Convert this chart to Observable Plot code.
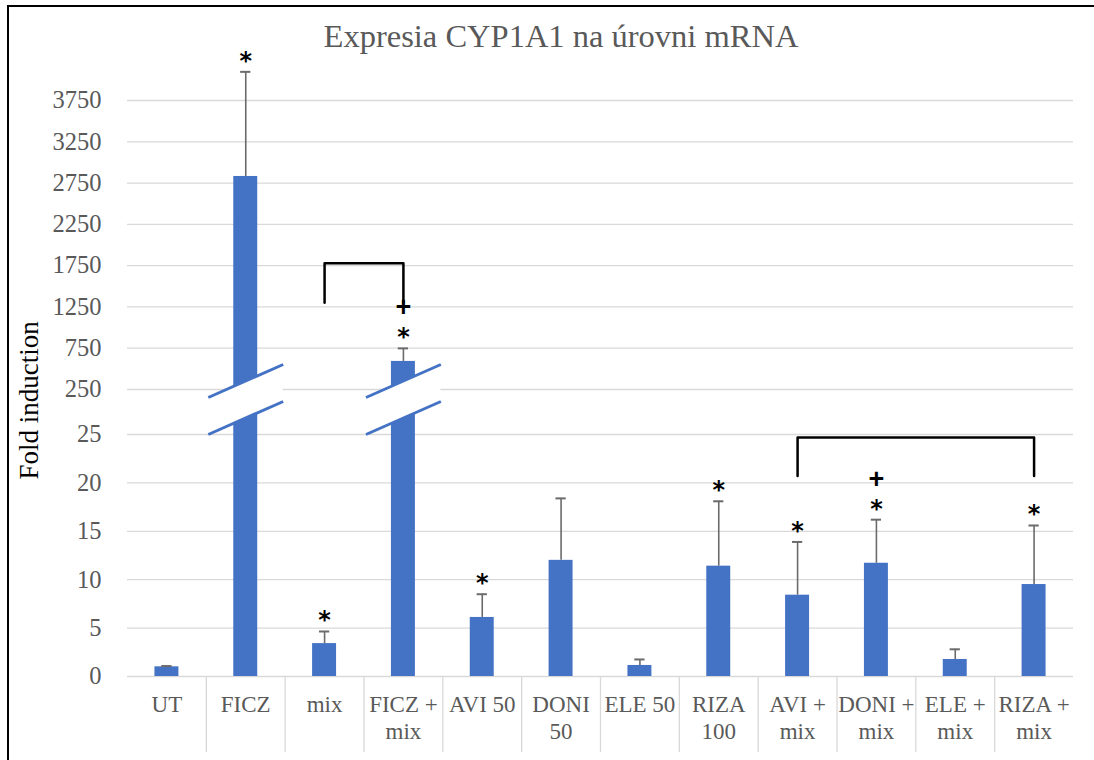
<!DOCTYPE html>
<html>
<head>
<meta charset="utf-8">
<script src="https://cdn.jsdelivr.net/npm/d3@7"></script>
<script src="https://cdn.jsdelivr.net/npm/@observablehq/plot@0.6"></script>
<style>
  html, body { margin: 0; padding: 0; background: #fff; }
  #wrap { position: relative; width: 1094px; height: 760px; overflow: hidden; }
  #chart { position: absolute; left: 0; top: 0; }
  #frame { position: absolute; left: 7px; top: 5px; width: 1100px; height: 770px;
           border-top: 2px solid #000; border-left: 2px solid #000; }
  #title { position: absolute; left: 0; top: 21px; width: 1122px; text-align: center;
           font-family: "Liberation Serif", serif; font-size: 32.5px; line-height: 30px; color: #595959; }
</style>
</head>
<body>
<div id="wrap">
  <div id="chart"></div>
  <div id="frame"></div>
  <div id="title">Expresia CYP1A1 na úrovni mRNA</div>
</div>
<script>
// ---- data ----
const categories = ["UT", "FICZ", "mix", "FICZ + mix", "AVI 50", "DONI 50", "ELE 50", "RIZA 100", "AVI + mix", "DONI + mix", "ELE + mix", "RIZA + mix"];
const tickLabels = ["UT", "FICZ", "mix", "FICZ +\nmix", "AVI 50", "DONI\n50", "ELE 50", "RIZA\n100", "AVI +\nmix", "DONI +\nmix", "ELE +\nmix", "RIZA +\nmix"];
const values = [1.0, 2830, 3.4, 590, 6.1, 12.0, 1.14, 11.4, 8.4, 11.7, 1.76, 9.5];
const errors = [0.08, 1267, 1.25, 158, 2.4, 6.4, 0.62, 6.7, 5.5, 4.5, 1.05, 6.1];
const stars = [false, true, true, true, true, false, false, true, true, true, false, true];
const plusses = [false, false, false, true, false, false, false, false, false, true, false, false];
const brokenBars = ["FICZ", "FICZ + mix"];
const breakAt = 200;
const brackets = [
  {from: "mix", to: "FICZ + mix", low: 1300, high: 1780},
  {from: "AVI + mix", to: "RIZA + mix", low: 20.7, high: 24.7}
];
const yTicks = [0, 5, 10, 15, 20, 25, 250, 750, 1250, 1750, 2250, 2750, 3250, 3750];
const yDomain = [0, 25, 250, 3750];
const yLabel = "Fold induction";

// ---- layout / style ----
const W = 1094, H = 760;
const mL = 127, mR = 21, mT = 60, mB = 84;
const yRange = [676, 434, 389, 100];
const blue = "#4472C4", grid = "#d9d9d9", textGray = "#595959";
const serif = "Liberation Serif";

const yMap = d3.scaleLinear().domain(yDomain).range(yRange);
const sepBottom = yMap.invert(yRange[0] + 76);
const idx = c => categories.indexOf(c);

const data = categories.map((c, i) => ({i, c, v: values[i], e: errors[i], top: values[i] + errors[i], star: stars[i], plus: plusses[i]}));

const barHalf = 0.152, capHalf = 0.065, breakHalf = 0.475;
const bc = yMap(breakAt), halfGap = 18.5, halfRise = 16.5;
const breaks = brokenBars.map(c => {
  const i = idx(c);
  return {
    c, xa: i - breakHalf, xb: i + breakHalf,
    upA: yMap.invert(bc - halfGap + halfRise), upB: yMap.invert(bc - halfGap - halfRise),
    loA: yMap.invert(bc + halfGap + halfRise), loB: yMap.invert(bc + halfGap - halfRise)
  };
});
const bandPts = breaks.flatMap(b => [
  {c: b.c, x: b.xa, y1: b.loA, y2: b.upA},
  {c: b.c, x: b.xb, y1: b.loB, y2: b.upB}
]);
const bracketPts = brackets.flatMap((b, k) => [
  {k, x: idx(b.from), y: b.low},
  {k, x: idx(b.from), y: b.high},
  {k, x: idx(b.to), y: b.high},
  {k, x: idx(b.to), y: b.low}
]);

const chart = Plot.plot({
  width: W, height: H,
  marginLeft: mL, marginRight: mR, marginTop: mT, marginBottom: mB,
  style: {fontFamily: serif, background: "transparent", overflow: "visible"},
  x: {type: "linear", domain: [-0.5, categories.length - 0.5]},
  y: {type: "linear", domain: yDomain, range: yRange},
  marks: [
    Plot.gridY(yTicks, {stroke: grid, strokeOpacity: 1, strokeWidth: 1.3}),
    Plot.ruleX(d3.range(categories.length - 1).map(i => i + 0.5), {y1: 0, y2: sepBottom, stroke: grid, strokeWidth: 1.3}),
    Plot.rect(data, {x1: d => d.i - barHalf, x2: d => d.i + barHalf, y1: 0, y2: "v", fill: blue}),
    Plot.ruleX(data, {x: "i", y1: "v", y2: "top", stroke: "#6b6b6b", strokeWidth: 1.6}),
    Plot.ruleY(data, {y: "top", x1: d => d.i - capHalf, x2: d => d.i + capHalf, stroke: "#6b6b6b", strokeWidth: 2}),
    Plot.areaY(bandPts, {x: "x", y1: "y1", y2: "y2", z: "c", fill: "white"}),
    Plot.link(breaks, {x1: "xa", x2: "xb", y1: "upA", y2: "upB", stroke: blue, strokeWidth: 3}),
    Plot.link(breaks, {x1: "xa", x2: "xb", y1: "loA", y2: "loB", stroke: blue, strokeWidth: 3}),
    Plot.line(bracketPts, {x: "x", y: "y", z: "k", stroke: "#000", strokeWidth: 2.5, strokeLinejoin: "round"}),
    Plot.text(data.filter(d => d.star), {
      x: "i", y: "top", text: () => "*", lineAnchor: "bottom", dy: -3,
      fontSize: 24, fontWeight: "bold", fontFamily: "DejaVu Sans", fill: "#000"
    }),
    Plot.text(data.filter(d => d.plus), {
      x: "i", y: "top", text: () => "+", lineAnchor: "bottom", dy: -32,
      fontSize: 27, fontWeight: "bold", fontFamily: "Liberation Sans", fill: "#000"
    }),
    Plot.axisY(yTicks, {tickSize: 0, tickPadding: 26, fontSize: 24.5, fill: textGray, tickFormat: d => String(d), label: null}),
    Plot.axisX(d3.range(categories.length), {tickSize: 0, tickPadding: 16, fontSize: 23, lineHeight: 1.17, fill: textGray, tickFormat: i => tickLabels[i], label: null}),
    Plot.text([yLabel], {frameAnchor: "left", rotate: -90, dx: -98, dy: 111, fontSize: 27, fill: "#000", fontFamily: serif})
  ]
});
document.getElementById("chart").appendChild(chart);
</script>
</body>
</html>
